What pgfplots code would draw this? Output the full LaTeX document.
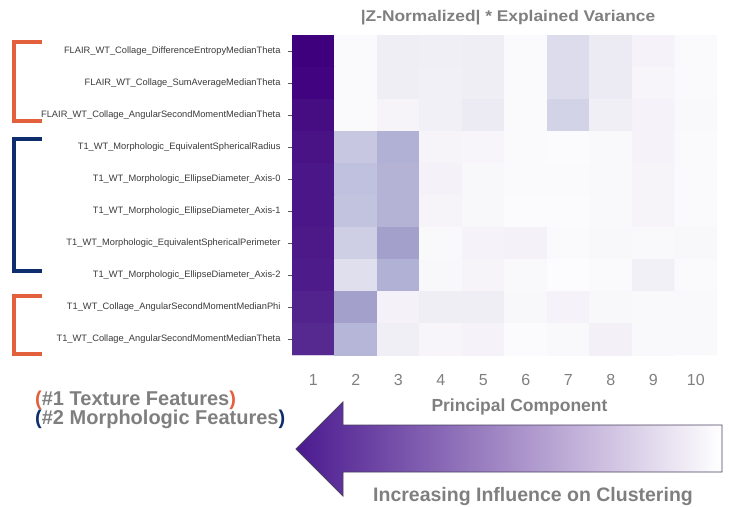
\documentclass[border=0pt]{standalone}
\usepackage{pgfplots}
\pgfplotsset{compat=1.18}
\usepackage{fontspec}
\setmainfont{Liberation Sans}
\newfontfamily\widefont[FakeStretch=1.12]{Liberation Sans}
\definecolor{txtgray}{HTML}{7F7F7F}
\definecolor{lblgray}{HTML}{3A3A3A}
\definecolor{brorange}{HTML}{E2603C}
\definecolor{brnavy}{HTML}{0D2D6C}
\definecolor{arrdark}{HTML}{4B1A8F}
\definecolor{arrmid}{HTML}{C6B6DE}
\definecolor{arrlight}{HTML}{F2EEF7}
\definecolor{arredge}{HTML}{4A4060}
\pgfplotstableread{
x y c
1 1 1.00
2 1 0.02
3 1 0.12
4 1 0.11
5 1 0.12
6 1 0.02
7 1 0.24
8 1 0.14
9 1 0.07
10 1 0.02
1 2 0.99
2 2 0.02
3 2 0.12
4 2 0.10
5 2 0.12
6 2 0.02
7 2 0.24
8 2 0.14
9 2 0.05
10 2 0.02
1 3 0.96
2 3 0.02
3 3 0.06
4 3 0.10
5 3 0.14
6 3 0.02
7 3 0.28
8 3 0.11
9 3 0.07
10 3 0.03
1 4 0.94
2 4 0.33
3 4 0.42
4 4 0.06
5 4 0.05
6 4 0.02
7 4 0.01
8 4 0.03
9 4 0.07
10 4 0.02
1 5 0.93
2 5 0.36
3 5 0.41
4 5 0.08
5 5 0.04
6 5 0.02
7 5 0.02
8 5 0.03
9 5 0.06
10 5 0.02
1 6 0.93
2 6 0.35
3 6 0.41
4 6 0.06
5 6 0.04
6 6 0.01
7 6 0.01
8 6 0.03
9 6 0.06
10 6 0.02
1 7 0.92
2 7 0.30
3 7 0.48
4 7 0.03
5 7 0.07
6 7 0.08
7 7 0.02
8 7 0.04
9 7 0.03
10 7 0.04
1 8 0.91
2 8 0.22
3 8 0.42
4 8 0.04
5 8 0.06
6 8 0.03
7 8 0.00
8 8 0.02
9 8 0.10
10 8 0.02
1 9 0.89
2 9 0.48
3 9 0.08
4 9 0.12
5 9 0.12
6 9 0.04
7 9 0.07
8 9 0.04
9 9 0.03
10 9 0.03
1 10 0.87
2 10 0.40
3 10 0.11
4 10 0.05
5 10 0.07
6 10 0.01
7 10 0.03
8 10 0.09
9 10 0.03
10 10 0.03
}\heatdata
\begin{document}
\begin{tikzpicture}
\path[use as bounding box] (0,0) rectangle (729bp,-507bp);
\begin{axis}[
  width=425bp, height=320bp, scale only axis,
  at={(292bp,-355bp)}, anchor=south west,
  xmin=0.5, xmax=10.5, ymin=0.5, ymax=10.5, y dir=reverse,
  axis line style={draw=none},
  xtick={1,...,10}, ytick={1,...,10},
  yticklabels={
    FLAIR\_WT\_Collage\_DifferenceEntropyMedianTheta,
    FLAIR\_WT\_Collage\_SumAverageMedianTheta,
    FLAIR\_WT\_Collage\_AngularSecondMomentMedianTheta,
    T1\_WT\_Morphologic\_EquivalentSphericalRadius,
    T1\_WT\_Morphologic\_EllipseDiameter\_Axis-0,
    T1\_WT\_Morphologic\_EllipseDiameter\_Axis-1,
    T1\_WT\_Morphologic\_EquivalentSphericalPerimeter,
    T1\_WT\_Morphologic\_EllipseDiameter\_Axis-2,
    T1\_WT\_Collage\_AngularSecondMomentMedianPhi,
    T1\_WT\_Collage\_AngularSecondMomentMedianTheta},
  tick pos=left, tick align=outside, major tick length=4bp,
  xtick style={draw=none},
  ytick style={draw=black!65, line width=0.6pt},
  yticklabel style={font=\fontsize{9.3bp}{10bp}\selectfont, text=lblgray, xshift=-4bp},
  xticklabel style={font=\fontsize{16bp}{16bp}\selectfont, text=txtgray, anchor=base, yshift=-26bp},
  /pgf/number format/assume math mode=true,
  colormap={purples}{rgb255=(252,251,253) rgb255=(239,237,245) rgb255=(218,218,235) rgb255=(188,189,220) rgb255=(158,154,200) rgb255=(128,125,186) rgb255=(106,81,163) rgb255=(84,39,143) rgb255=(63,0,125)},
  point meta min=0, point meta max=1,
  enlargelimits=false,
]
\addplot[matrix plot*, mesh/cols=10, point meta=explicit] table[meta=c] {\heatdata};
\end{axis}
% title and axis label
\node[anchor=base, text=txtgray, font=\widefont\bfseries\fontsize{15.5bp}{16bp}\selectfont] at (508bp,-21bp) {|Z-Normalized| * Explained Variance};
\node[anchor=base, text=txtgray, font=\bfseries\fontsize{17.5bp}{18bp}\selectfont] at (519.5bp,-411bp) {Principal Component};
% brackets
\draw[brorange, line width=4bp] (42bp,-42bp) -- (14bp,-42bp) -- (14bp,-121bp) -- (42bp,-121bp);
\draw[brnavy, line width=4bp] (42bp,-139bp) -- (14bp,-139bp) -- (14bp,-271bp) -- (42bp,-271bp);
\draw[brorange, line width=4bp] (42bp,-296bp) -- (14bp,-296bp) -- (14bp,-354bp) -- (42bp,-354bp);
% legend text
\node[anchor=base west, inner sep=0pt, font=\bfseries\fontsize{20bp}{20bp}\selectfont] at (35bp,-405bp) {\textcolor{brorange}{(}\textcolor{txtgray}{\#1 Texture Features}\textcolor{brorange}{)}};
\node[anchor=base west, inner sep=0pt, font=\bfseries\fontsize{20bp}{20bp}\selectfont] at (35bp,-424bp) {\textcolor{brnavy}{(}\textcolor{txtgray}{\#2 Morphologic Features}\textcolor{brnavy}{)}};
% big arrow
\shade[left color=arrdark, middle color=arrmid, right color=white, draw=arredge, line width=0.8bp]
  (296bp,-449bp) -- (343bp,-402bp) -- (343bp,-425bp) -- (722bp,-425bp) -- (722bp,-472bp) -- (343bp,-472bp) -- (343bp,-496bp) -- cycle;
\node[anchor=base, text=txtgray, font=\bfseries\fontsize{19.5bp}{20bp}\selectfont] at (533bp,-501bp) {Increasing Influence on Clustering};
\end{tikzpicture}
\end{document}
